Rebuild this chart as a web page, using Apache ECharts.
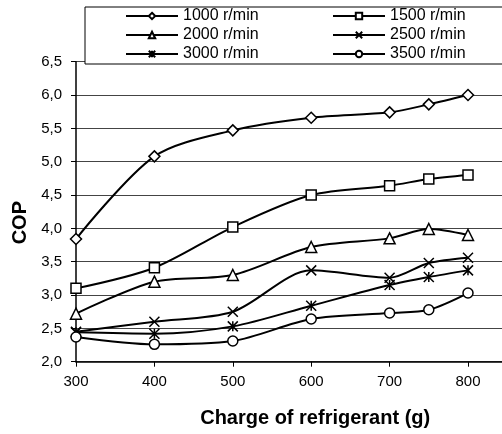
<!DOCTYPE html>
<html>
<head>
<meta charset="utf-8">
<title>COP vs charge of refrigerant</title>
<script src="https://cdn.jsdelivr.net/npm/echarts@6/dist/echarts.min.js"></script>
<style>
  html, body { margin: 0; padding: 0; background: #fff; }
  #chart { width: 502px; height: 434px; }
</style>
</head>
<body>
<div id="chart"></div>
<script>
// charge of refrigerant (g)
const charge = [300, 400, 500, 600, 700, 750, 800]

// COP per compressor speed
const cop1000 = [3.84, 5.08, 5.47, 5.66, 5.74, 5.86, 6.00]
const cop1500 = [3.10, 3.41, 4.02, 4.50, 4.64, 4.74, 4.80]
const cop2000 = [2.72, 3.20, 3.30, 3.72, 3.85, 3.99, 3.90]
const cop2500 = [2.45, 2.60, 2.75, 3.37, 3.26, 3.48, 3.56]
const cop3000 = [2.44, 2.42, 2.53, 2.84, 3.15, 3.27, 3.37]
const cop3500 = [2.37, 2.26, 2.31, 2.64, 2.73, 2.78, 3.03]

const speedNames = ['1000 r/min', '1500 r/min', '2000 r/min', '2500 r/min', '3000 r/min', '3500 r/min']

const xTicks = { min: 300, max: 900, interval: 100 }
const yTicks = { min: 2, max: 6.5, interval: 0.5 }

const font = 'Liberation Sans, Arial, sans-serif'

const markers = [
  { symbol: 'diamond', size: 11 },
  { symbol: 'rect', size: 10 },
  { symbol: 'triangle', size: 11 },
  { symbol: 'path://M0,0L10,10M10,0L0,10', size: 10 },
  { symbol: 'path://M0,0L10,10M10,0L0,10M5,0L5,10', size: 10 },
  { symbol: 'circle', size: 10 }
]

const allValues = [cop1000, cop1500, cop2000, cop2500, cop3000, cop3500]

const chart = echarts.init(document.getElementById('chart'))

function makeSeries(i) {
  return {
    name: speedNames[i],
    type: 'line',
    smooth: 0.3,
    data: charge.map((c, k) => [c, allValues[i][k]]),
    symbol: markers[i].symbol,
    symbolSize: markers[i].size,
    showAllSymbol: true,
    lineStyle: { color: '#000', width: 2 },
    itemStyle: { color: '#fff', borderColor: '#000', borderWidth: 1.5 },
    emphasis: { disabled: true },
    z: 3
  }
}

const legendBase = {
  orient: 'vertical',
  top: 7,
  itemWidth: 52,
  itemHeight: 8,
  itemGap: 3,
  textStyle: { fontFamily: font, fontSize: 16, color: '#000', lineHeight: 16 }
}

chart.setOption({
  animation: false,
  textStyle: { fontFamily: font },
  grid: {
    left: 76,
    top: 61.7,
    right: -44.4,
    bottom: 72.3,
    outerBoundsMode: 'none'
  },
  legend: [
    Object.assign({}, legendBase, {
      data: [speedNames[0], speedNames[2], speedNames[4]],
      left: 85,
      padding: [1, 330, 2, 40],
      borderColor: '#000',
      borderWidth: 1,
      backgroundColor: '#fff',
      z: 5
    }),
    Object.assign({}, legendBase, {
      data: [speedNames[1], speedNames[3], speedNames[5]],
      left: 332,
      padding: [1, 0, 2, 0],
      z: 6
    })
  ],
  xAxis: {
    type: 'value',
    min: xTicks.min,
    max: xTicks.max,
    interval: xTicks.interval,
    name: 'Charge of refrigerant (g)',
    nameLocation: 'middle',
    nameGap: 47,
    nameTextStyle: { fontSize: 20, fontWeight: 'bold', color: '#000', padding: [0, 0, 0, 8] },
    axisLine: { show: true, lineStyle: { color: '#000', width: 1.5 } },
    axisTick: { show: true, length: 5, lineStyle: { color: '#000' } },
    axisLabel: { margin: 13, fontSize: 15, color: '#000' },
    splitLine: { show: false }
  },
  yAxis: {
    type: 'value',
    min: yTicks.min,
    max: yTicks.max,
    interval: yTicks.interval,
    name: 'COP',
    nameLocation: 'middle',
    nameGap: 42,
    nameTextStyle: { fontSize: 20, fontWeight: 'bold', color: '#000', padding: [0, 22, 0, 0] },
    axisLine: { show: true, lineStyle: { color: '#000', width: 1.5 } },
    axisTick: { show: true, length: 5, lineStyle: { color: '#000' } },
    axisLabel: {
      margin: 14,
      fontSize: 15,
      color: '#000',
      formatter: (v) => v.toFixed(1).replace('.', ',')
    },
    splitLine: { show: true, lineStyle: { color: '#444', width: 1 } }
  },
  series: speedNames.map((n, i) => makeSeries(i))
})
</script>
</body>
</html>
